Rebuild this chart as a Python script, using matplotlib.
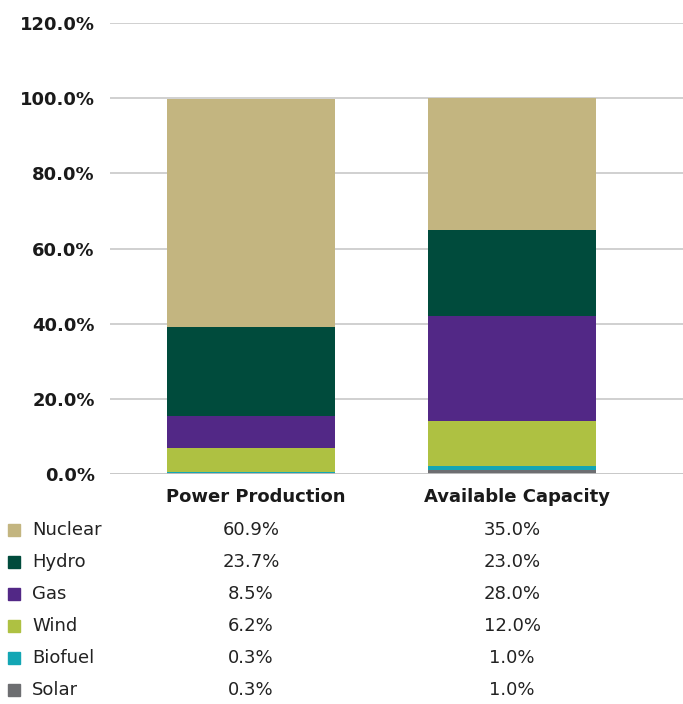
import matplotlib.pyplot as plt
import matplotlib.transforms as mtransforms
from matplotlib.patches import Rectangle
import numpy as np

plt.rcParams['font.family'] = ['DejaVu Sans']

categories = ['Power Production', 'Available Capacity']
sources = ['Nuclear', 'Hydro', 'Gas', 'Wind', 'Biofuel', 'Solar']
nuclear = [60.9, 35.0]
hydro = [23.7, 23.0]
gas = [8.5, 28.0]
wind = [6.2, 12.0]
biofuel = [0.3, 1.0]
solar = [0.3, 1.0]
yticks = [0, 20, 40, 60, 80, 100, 120]

colors = {'Nuclear': '#c3b580', 'Hydro': '#004b3c', 'Gas': '#522886',
          'Wind': '#aec142', 'Biofuel': '#13a6b4', 'Solar': '#6d6e71'}

values = {'Nuclear': nuclear, 'Hydro': hydro, 'Gas': gas,
          'Wind': wind, 'Biofuel': biofuel, 'Solar': solar}

W, H = 683, 704
fig = plt.figure(figsize=[W/100, H/100], dpi=100)
ax = fig.add_axes([110/W, 1 - 474/H, 1 - 110/W, (474 - 23)/H])

x = np.arange(len(categories))
bottom = np.zeros(len(categories))
# stack from the bottom: solar first
for s in sources[::-1]:
    v = np.array(values[s])
    ax.bar(x, v, width=0.64, bottom=bottom, color=colors[s], zorder=3)
    bottom += v

ax.set_ylim(0, 120)
ax.set_xlim(-0.54, 1.655)
ax.set_yticks(yticks)
ax.set_yticklabels(['%.1f%%' % t for t in yticks], fontsize=13, fontweight='bold', color='#1a1a1a')
ax.tick_params(axis='y', length=0, pad=11)
ax.set_xticks([])
ax.grid(axis='y', color='#c8c8c8', linewidth=1.2, zorder=0)
ax.axhline(0, color='#c8c8c8', linewidth=1.2, zorder=4)
for sp in ax.spines.values():
    sp.set_visible(False)

trans = mtransforms.blended_transform_factory(ax.transData, fig.transFigure)

for i, c in enumerate(categories):
    ax.text(x[i] + 0.02, 1 - 497/H, c, transform=trans, ha='center', va='center',
            fontsize=13, fontweight='bold', color='#1a1a1a')

row_y = [530, 562, 594, 626, 658, 690]
for j, s in enumerate(sources):
    yy = 1 - row_y[j]/H
    fig.patches.append(Rectangle((8/W, yy - 6/H), 12/W, 12/H, transform=fig.transFigure,
                                 color=colors[s], figure=fig))
    fig.text(32/W, yy, s, ha='left', va='center', fontsize=13, color='#222222')
    for i in range(len(categories)):
        ax.text(x[i], yy, '%.1f%%' % values[s][i], transform=trans, ha='center', va='center',
                fontsize=13, color='#222222')

fig.savefig('out.png', dpi=100)
